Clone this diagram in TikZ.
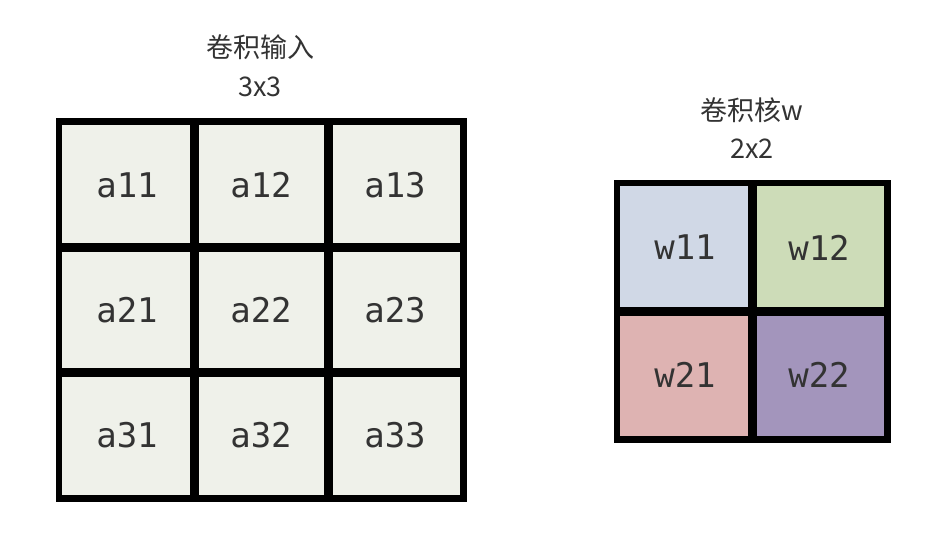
\documentclass[tikz,border=0pt]{standalone}
\usepackage{fontspec}
\newfontfamily\cjk{Noto Sans CJK SC}
\newfontfamily\monof{DejaVu Sans Mono}
\definecolor{gridline}{HTML}{000000}
\definecolor{txt}{HTML}{333333}
\definecolor{afill}{HTML}{EFF1EA}
\definecolor{wa}{HTML}{D0D8E6}
\definecolor{wb}{HTML}{CDDCB8}
\definecolor{wc}{HTML}{DEB3B2}
\definecolor{wd}{HTML}{A395BC}
\begin{document}
\begin{tikzpicture}[x=1pt,y=-1pt,
  acell/.style={draw=gridline,line width=4.5pt,fill=afill,minimum width=134pt,minimum height=124.7pt,inner sep=0pt,text=txt,font=\monof\fontsize{34}{36}\selectfont},
  wcell/.style={draw=gridline,line width=4.5pt,minimum width=134pt,minimum height=127pt,inner sep=0pt,text=txt,font=\monof\fontsize{34}{36}\selectfont},
  title/.style={text=txt,font=\cjk\fontsize{27}{30}\selectfont,inner sep=0pt}]
\useasboundingbox (0,0) rectangle (932,550);
\fill[white] (0,0) rectangle (932,550);
% titles
\node[title] (t1) at (260,47) {卷积输入};
\node[title] (t2) at (260,87) {3x3};
\node[title] (t3) at (752,110) {卷积核w};
\node[title] (t4) at (752,149) {2x2};
% input grid
\node[acell] (a11) at (127,185.3) {a11};
\node[acell] (a12) at (261,185.3) {a12};
\node[acell] (a13) at (395,185.3) {a13};
\node[acell] (a21) at (127,310) {a21};
\node[acell] (a22) at (261,310) {a22};
\node[acell] (a23) at (395,310) {a23};
\node[acell] (a31) at (127,434.7) {a31};
\node[acell] (a32) at (261,434.7) {a32};
\node[acell] (a33) at (395,434.7) {a33};
% kernel grid
\node[wcell,fill=wa] (w11) at (685,247.5) {w11};
\node[wcell,fill=wb] (w12) at (819,247.5) {w12};
\node[wcell,fill=wc] (w21) at (685,374.5) {w21};
\node[wcell,fill=wd] (w22) at (819,374.5) {w22};
% redraw borders on top
\foreach \n in {a11,a12,a13,a21,a22,a23,a31,a32,a33,w11,w12,w21,w22}
  \draw[gridline,line width=4.5pt] (\n.north west) rectangle (\n.south east);
\end{tikzpicture}
\end{document}
